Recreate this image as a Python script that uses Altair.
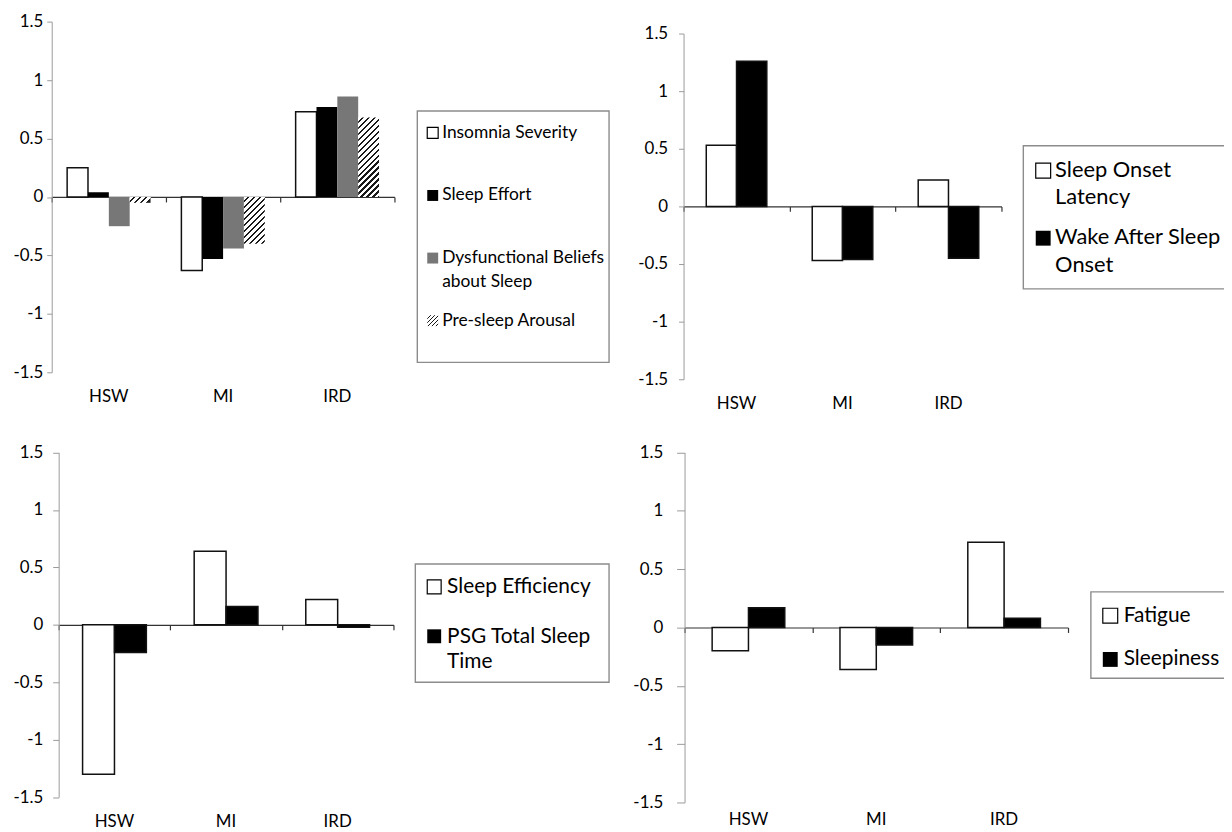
import altair as alt
import pandas as pd

# ---------------- data ----------------
groups = ["HSW", "MI", "IRD"]

# panel 1
p1_series = ["Insomnia Severity", "Sleep Effort", "Dysfunctional Beliefs about Sleep", "Pre-sleep Arousal"]
p1_legend = ["Insomnia Severity", "Sleep Effort", "Dysfunctional Beliefs\nabout Sleep", "Pre-sleep Arousal"]
insomnia_severity = [0.25, -0.63, 0.73]
sleep_effort = [0.04, -0.53, 0.77]
dysfunctional_beliefs = [-0.25, -0.44, 0.86]
presleep_arousal = [-0.05, -0.40, 0.68]

# panel 2
p2_series = ["Sleep Onset Latency", "Wake After Sleep Onset"]
p2_legend = ["Sleep Onset\nLatency", "Wake After Sleep\nOnset"]
sleep_onset_latency = [0.53, -0.47, 0.23]
wake_after_sleep_onset = [1.26, -0.46, -0.45]

# panel 3
p3_series = ["Sleep Efficiency", "PSG Total Sleep Time"]
p3_legend = ["Sleep Efficiency", "PSG Total Sleep\nTime"]
sleep_efficiency = [-1.30, 0.64, 0.22]
psg_total_sleep_time = [-0.24, 0.16, -0.02]

# panel 4
p4_series = ["Fatigue", "Sleepiness"]
p4_legend = ["Fatigue", "Sleepiness"]
fatigue = [-0.20, -0.36, 0.73]
sleepiness = [0.17, -0.15, 0.08]

y_ticks = [-1.5, -1, -0.5, 0, 0.5, 1, 1.5]

# ---------------- layout / style ----------------
W, H = 1224, 824
FONT = "Lato"
AXIS_FS = 17


def long_df(series, values):
    rows = []
    for s, vals in zip(series, values):
        for g, v in zip(groups, vals):
            rows.append({"group": g, "series": s, "value": v})
    return pd.DataFrame(rows)


def hatch_gradient(w, h, period=6.0, dark=0.38):
    r = h / w if w > 0 else 1.0
    n = max(1.0, w * (1 + r * r) / period)
    stops = []
    k = 0
    while k / n <= 1:
        a = k / n
        b = min((k + 1 - dark) / n, 1)
        c = min((k + 1) / n, 1)
        stops += [(a, "#ffffff"), (b, "#ffffff"), (b, "#1a1a1a"), (c, "#1a1a1a")]
        k += 1
    return alt.LinearGradient(
        gradient="linear", x1=0, y1=0, x2=1, y2=r,
        stops=[alt.GradientStop(offset=o, color=c) for o, c in stops],
    )


def panel(series, values, fills, outline, geo, hatch_series=None):
    x0, x1, ytop, ybot, po, tsize, lpad, ldy = geo
    zero = (ytop + ybot) / 2
    df = long_df(series, values)
    x_enc = alt.X(
        "group:N", sort=groups,
        scale=alt.Scale(domain=groups, range=[x0, x1], paddingInner=0, paddingOuter=0),
        axis=alt.Axis(orient="bottom", offset=-(H - zero), labels=False, title=None,
                      tickBand="extent", tickSize=5, domainColor="#333", tickColor="#333",
                      domainWidth=1.2, tickWidth=1.2, grid=False),
    )
    y_enc = alt.Y(
        "value:Q",
        scale=alt.Scale(domain=[-1.5, 1.5], range=[ybot, ytop], nice=False, zero=False),
        axis=alt.Axis(orient="left", offset=-x0, values=y_ticks, labelExpr="datum.value + ''",
                      title=None, grid=False, tickSize=tsize, labelPadding=lpad,
                      domainColor="#9a9a9a", tickColor="#9a9a9a"),
    )
    xo_enc = alt.XOffset("series:N", sort=series,
                         scale=alt.Scale(domain=series, paddingInner=0, paddingOuter=po))
    base = alt.Chart(df).encode(x=x_enc, xOffset=xo_enc, y=y_enc)
    bars = base.mark_bar(strokeWidth=1.5, stroke="#111").encode(
        fill=alt.Fill("series:N", scale=alt.Scale(domain=series, range=fills), legend=None),
        strokeOpacity=alt.condition(
            alt.FieldOneOfPredicate(field="series", oneOf=outline), alt.value(1), alt.value(0)
        ),
    )
    layers = [bars]
    if hatch_series is not None:
        idx = series.index(hatch_series)
        bw = (x1 - x0) / 3 / (len(series) + 2 * po)
        ppu = (ybot - ytop) / 3
        for g, v in zip(groups, values[idx]):
            grad = hatch_gradient(bw, abs(v) * ppu)
            layers.append(
                base.transform_filter(alt.FieldEqualPredicate(field="series", equal=hatch_series))
                .transform_filter(alt.FieldEqualPredicate(field="group", equal=g))
                .mark_bar(fill=grad)
            )
    labels = alt.Chart(pd.DataFrame({"group": groups})).mark_text(
        dy=ldy, fontSize=AXIS_FS, font=FONT, color="#000"
    ).encode(x=x_enc, y=alt.datum(-1.5), text="group:N")
    layers.append(labels)
    return alt.layer(*layers)


def legend(series, texts, fills, strokes, box, sym_x, sym_px, text_x, y_first, y_last,
           font_size, line_height, hatch_idx=None):
    df = pd.DataFrame({"series": series, "label": texts})
    y_enc = alt.Y("series:N", sort=series,
                  scale=alt.Scale(domain=series, range=[y_first, y_last], padding=0), axis=None)
    frame = alt.Chart(pd.DataFrame({"a": [0]})).mark_rect(
        fill="white", stroke="#8c8c8c", strokeWidth=1.4
    ).encode(x=alt.value(box[0]), x2=alt.value(box[1]), y=alt.value(box[2]), y2=alt.value(box[3]))
    layers = [frame]
    for i, s in enumerate(series):
        fill = fills[i]
        if hatch_idx is not None and i == hatch_idx:
            fill = hatch_gradient(sym_px, sym_px, period=4.0, dark=0.3)
        kw = dict(size=sym_px * sym_px, fill=fill, opacity=1, shape="square")
        if strokes[i]:
            kw.update(stroke=strokes[i], strokeWidth=1.2)
        else:
            kw.update(strokeWidth=0)
        layers.append(
            alt.Chart(df).transform_filter(alt.FieldEqualPredicate(field="series", equal=s))
            .mark_point(filled=True, **kw)
            .encode(x=alt.value(sym_x), y=y_enc)
        )
    layers.append(
        alt.Chart(df).mark_text(
            align="left", baseline="line-top", lineBreak="\n", lineHeight=line_height,
            dy=-line_height / 2, fontSize=font_size, font=FONT, color="#000"
        ).encode(x=alt.value(text_x), y=y_enc, text="label:N")
    )
    return alt.layer(*layers)


p1 = panel(p1_series, [insomnia_severity, sleep_effort, dysfunctional_beliefs, presleep_arousal],
           ["#ffffff", "#000000", "#777777", "#ffffff"], ["Insomnia Severity"],
           (44, 389, 11, 364, 0.74, 5, 4, 25), hatch_series="Pre-sleep Arousal")
l1 = legend(p1_series, p1_legend, ["#ffffff", "#000000", "#777777", "#ffffff"],
            ["#000", None, None, None], (412, 605, 101, 354), 427.5, 11, 437, 123, 312, 17.5, 24,
            hatch_idx=3)

p2 = panel(p2_series, [sleep_onset_latency, wake_after_sleep_onset], ["#ffffff", "#000000"],
           p2_series, (680, 1000, 23, 371, 0.75, 5, 11, 25))
l2 = legend(p2_series, p2_legend, ["#ffffff", "#000000"], ["#000", None],
            (1022, 1228, 136, 280), 1042, 15, 1054, 161, 229, 22, 28)

p3 = panel(p3_series, [sleep_efficiency, psg_total_sleep_time], ["#ffffff", "#000000"],
           p3_series, (51, 388, 444.7, 791.7, 0.75, 6, 10, 25))
l3 = legend(p3_series, p3_legend, ["#ffffff", "#000000"], ["#000", None],
            (410, 605, 557, 676), 429, 14, 442, 580, 629.7, 21, 25)

p4 = panel(p4_series, [fatigue, sleepiness], ["#ffffff", "#000000"],
           p4_series, (681, 1067, 444.7, 797, 0.76, 8, 14, 18))
l4 = legend(p4_series, p4_legend, ["#ffffff", "#000000"], ["#000", None],
            (1090, 1228, 585, 672), 1109.5, 15, 1123, 609, 653, 21, 24)

chart = (
    alt.layer(p1, l1, p2, l2, p3, l3, p4, l4)
    .resolve_scale(x="independent", y="independent", xOffset="independent",
                   fill="independent", strokeOpacity="independent")
    .resolve_axis(x="independent", y="independent")
    .properties(width=W, height=H, padding=0, autosize=alt.AutoSizeParams(type="none"))
    .configure_view(stroke=None)
    .configure_axis(labelFont=FONT, labelFontSize=AXIS_FS, labelColor="#000")
)

chart.save("out.html", embed_options={"renderer": "svg", "actions": False})
